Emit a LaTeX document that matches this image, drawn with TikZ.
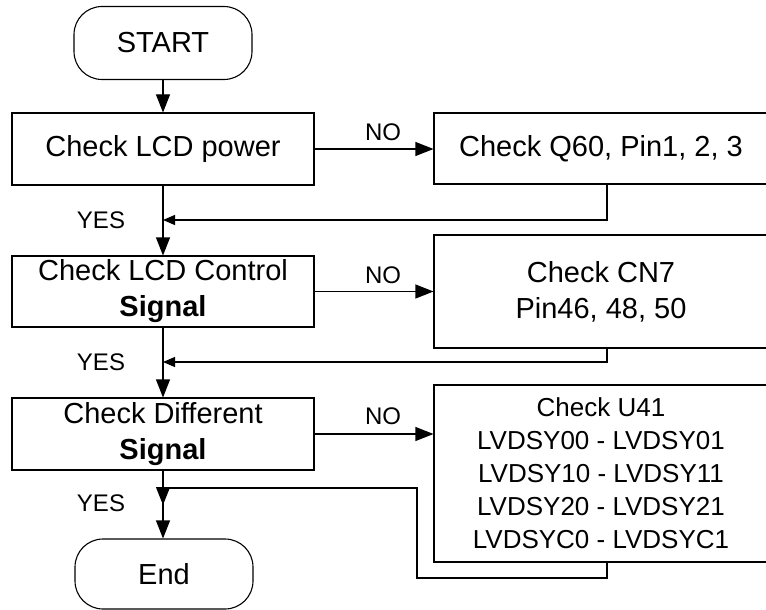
\documentclass[tikz,border=0pt]{standalone}
\usepackage{fontspec}
\setmainfont{Liberation Sans}
\usetikzlibrary{arrows.meta}
\begin{document}
\begin{tikzpicture}[x=1pt,y=-1pt,
  line width=1.1pt,
  box/.style={draw, rectangle, inner sep=0pt, align=center, font=\fontsize{29}{36}\selectfont},
  term/.style={draw, rectangle, rounded corners=28pt, inner sep=0pt, font=\fontsize{29}{36}\selectfont, minimum width=178pt, minimum height=73pt},
  lbl/.style={font=\fontsize{24}{28}\selectfont, inner sep=0pt},
  big/.style={-{Triangle[length=18pt,width=14pt]}},
  small/.style={-{Triangle[length=12pt,width=10pt]}},
]
\clip (0,0) rectangle (766,610);
\node[term] (start) at (163,43) {START};
\node[box, minimum width=302pt, minimum height=72pt] (b1) at (163,149) {Check LCD power};
\node[box, minimum width=334pt, minimum height=71pt] (b2) at (601,148.5) {Check Q60, Pin1, 2, 3};
\node[box, minimum width=302pt, minimum height=71pt] (b3) at (163,291.5) {Check LCD Control\\\textbf{Signal}};
\node[box, minimum width=334pt, minimum height=113pt] (b4) at (601,291.5) {Check CN7\\Pin46, 48, 50};
\node[box, minimum width=302pt, minimum height=72pt] (b5) at (163,434) {Check Different\\\textbf{Signal}};
\node[box, minimum width=334pt, minimum height=177pt, font=\fontsize{26}{33}\selectfont] (b6) at (601,473.5) {Check U41\\LVDSY00 - LVDSY01\\LVDSY10 - LVDSY11\\LVDSY20 - LVDSY21\\LVDSYC0 - LVDSYC1};
\node[term, minimum height=70pt] (end) at (164,574) {End};

\node[lbl] (no1) at (383,132) {NO};
\node[lbl] (no2) at (383,275) {NO};
\node[lbl] (no3) at (383,416) {NO};
\node[lbl] (yes1) at (101,220) {YES};
\node[lbl] (yes2) at (101,362) {YES};
\node[lbl] (yes3) at (101,503) {YES};

\coordinate (j1) at (163,220);
\coordinate (r1) at (607,220);
\coordinate (j2) at (163,362);
\coordinate (r2) at (607,362);
\coordinate (r3) at (607,578);
\coordinate (k3) at (417,578);
\coordinate (k4) at (417,488);
\coordinate (j3) at (163,488);
\coordinate (j3b) at (163,505);

\draw[big] (start.south) -- (b1.north);
\draw[big] (b1.south) -- (b3.north);
\draw[big] (b3.south) -- (b5.north);
\draw[big] (b5.south) -- (b5.south |- end.north);

\draw[big] (b1.east) -- (b1.east -| b2.west);
\draw[big] (b3.east) -- (b3.east -| b4.west);
\draw[big] (b5.east) -- (b5.east -| b6.west);

\draw[small] (r1 |- b2.south) -- (r1) -- (j1);
\draw[small] (r2 |- b4.south) -- (r2) -- (j2);
\draw[big] (r3 |- b6.south) -- (r3) -- (k3) -- (k4) -- (j3) -- (j3b);
\end{tikzpicture}
\end{document}
